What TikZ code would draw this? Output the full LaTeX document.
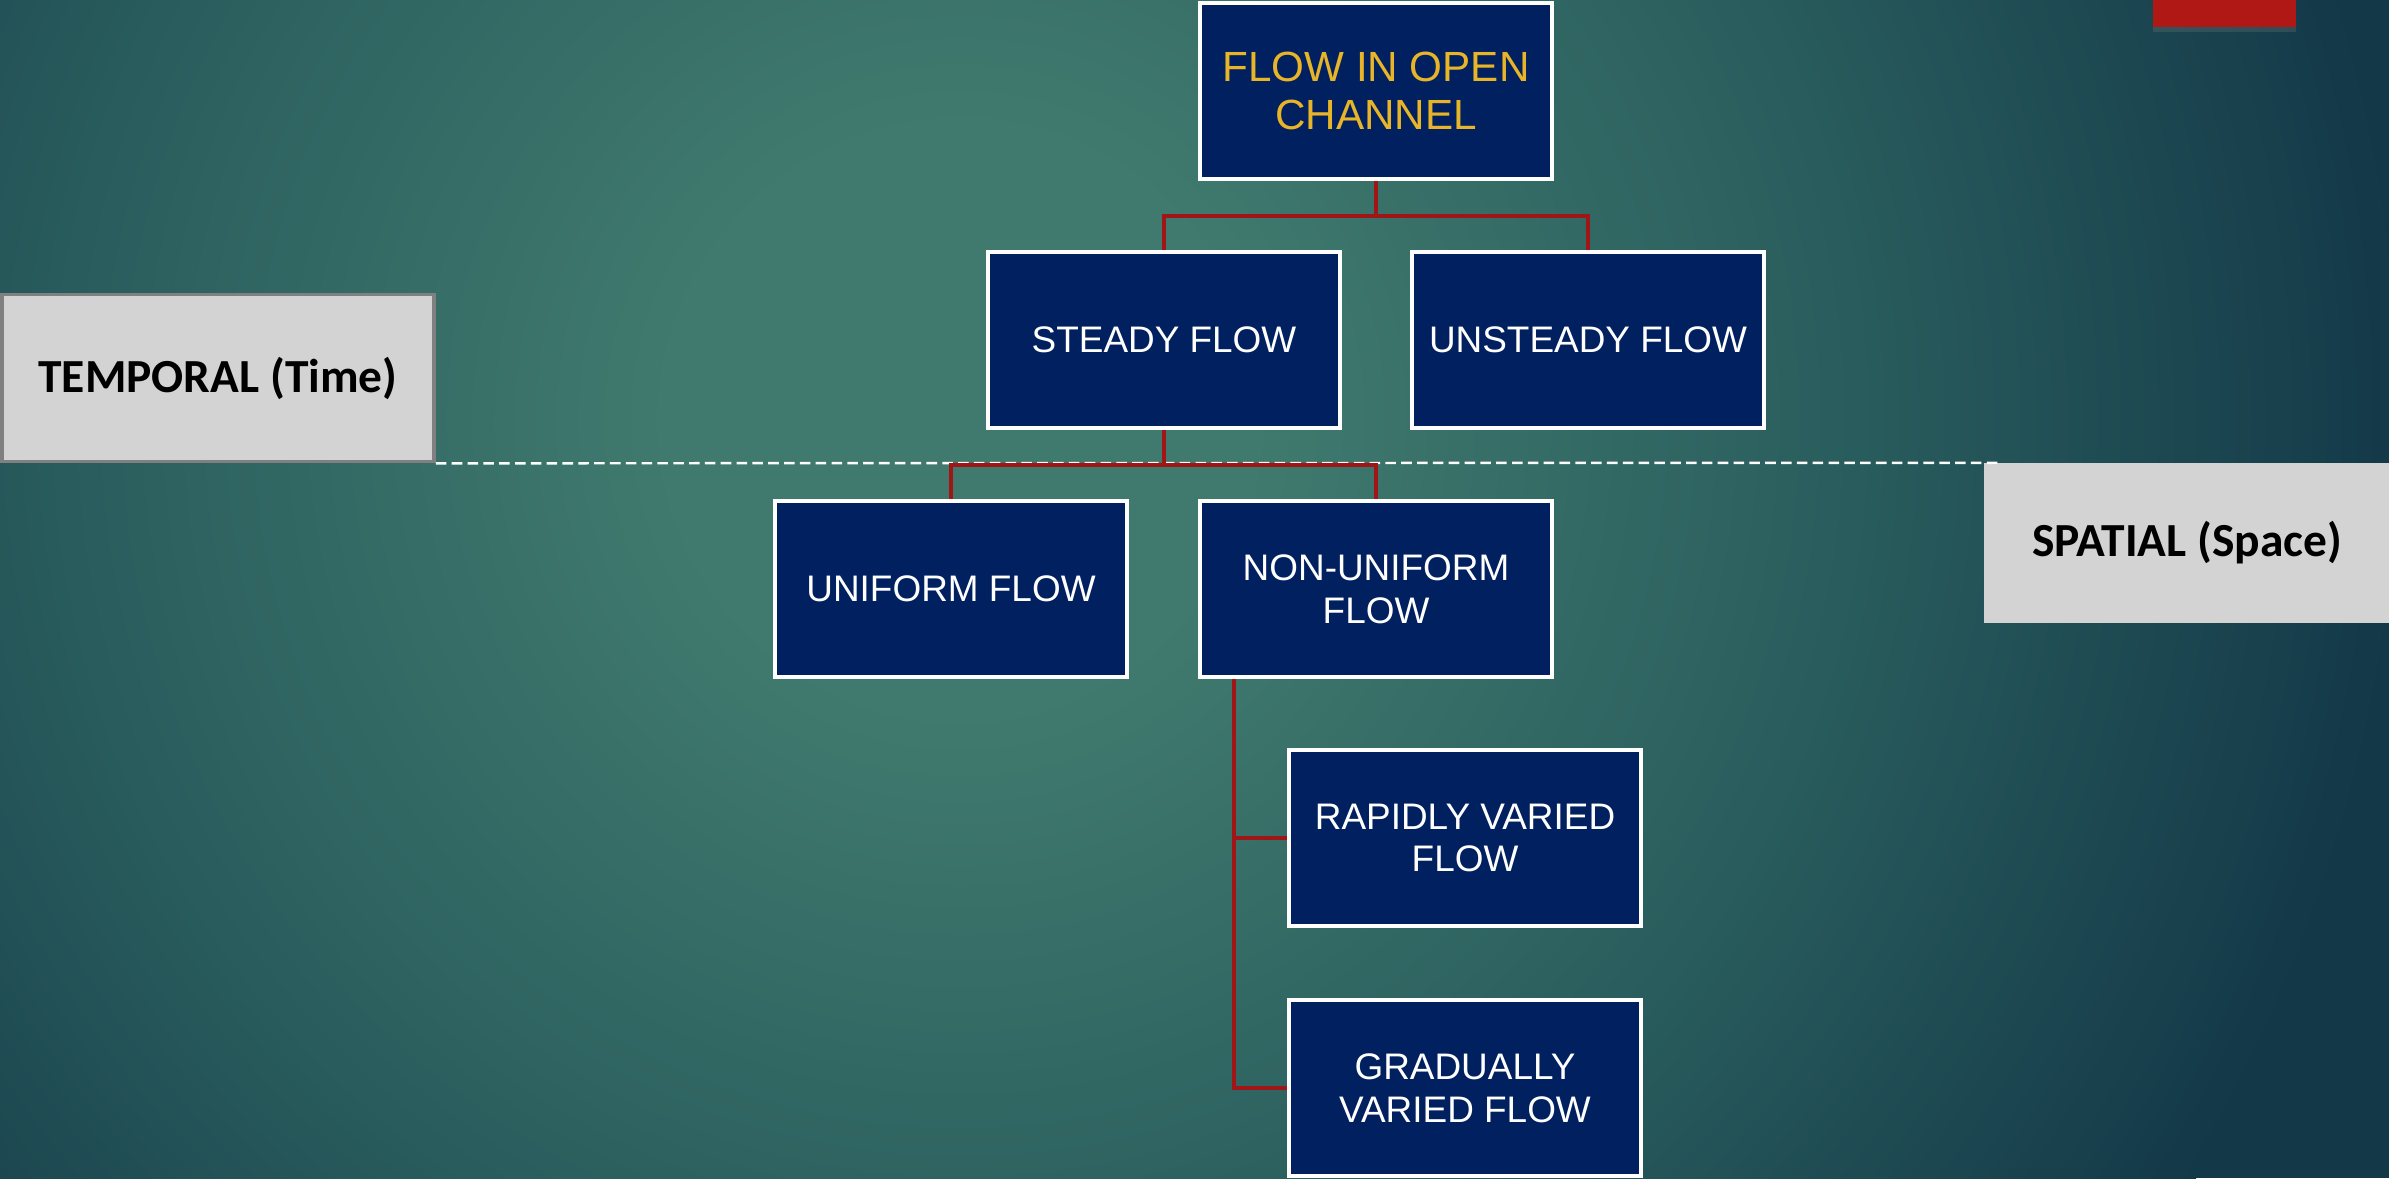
\documentclass[tikz,border=0pt]{standalone}
\usepackage{fontspec}
\setmainfont{Liberation Sans}
\newfontfamily\calfont{Carlito}
\usetikzlibrary{shadows}

\definecolor{bglight}{RGB}{64,122,110}
\definecolor{bgmid}{RGB}{42,94,94}
\definecolor{bgdark}{RGB}{19,56,72}
\definecolor{boxblue}{RGB}{0,32,96}
\definecolor{titlegold}{RGB}{232,180,40}
\definecolor{linkred}{RGB}{160,22,22}
\definecolor{tagred}{RGB}{176,24,21}
\definecolor{taggray}{RGB}{211,211,211}

\pgfdeclareradialshading{bgglow}{\pgfpoint{0bp}{0bp}}{color(0bp)=(bglight); color(5bp)=(bglight); color(15bp)=(bgmid); color(25bp)=(bgdark); color(50bp)=(bgdark)}

\tikzset{
  flowbox/.style={draw=white, line width=1.1pt, fill=boxblue, text=white,
    minimum width=3.52cm, minimum height=1.76cm, align=center, inner sep=2pt,
    font=\fontsize{10.5}{12.2}\selectfont},
  rootbox/.style={flowbox, text=titlegold, font=\fontsize{12}{13.6}\selectfont},
  tagbox/.style={fill=taggray, text=black, font=\calfont\bfseries\fontsize{13.5}{16}\selectfont},
  link/.style={linkred, line width=1.1pt},
  sepline/.style={white, line width=0.7pt, dash pattern=on 3pt off 1.5pt}
}

\begin{document}
\begin{tikzpicture}[x=0.01cm, y=-0.01cm]
    \useasboundingbox (0,0) rectangle (2389,1178);
    % Background glow
    \begin{scope}
        \clip (0,0) rectangle (2389,1178);
        \fill[bgdark] (0,0) rectangle (2389,1178);
        \shade[shading=bgglow] (960,420) circle (1450);
    \end{scope}
    % Red tab in the corner
    \path[fill=tagred, drop shadow={opacity=0.25, shadow xshift=0pt, shadow yshift=-1.5pt}]
        (2153,-10) rectangle (2296,27);
    % Flow classes
    \node[rootbox] (root) at (1376,91) {FLOW IN OPEN\\CHANNEL};
    \node[flowbox] (steady) at (1164,340) {STEADY FLOW};
    \node[flowbox] (unsteady) at (1588,340) {UNSTEADY FLOW};
    \node[flowbox] (uniform) at (951,589) {UNIFORM FLOW};
    \node[flowbox] (nonuniform) at (1376,589) {NON-UNIFORM\\FLOW};
    \node[flowbox] (rapid) at (1465,838) {RAPIDLY VARIED\\FLOW};
    \node[flowbox] (gradual) at (1465,1088) {GRADUALLY\\VARIED FLOW};
    % Side labels
    \node[tagbox, draw=gray, line width=1pt, minimum width=4.32cm, minimum height=1.67cm]
        (temporal) at (218,378) {TEMPORAL (Time)};
    \node[tagbox, minimum width=4.05cm, minimum height=1.59cm]
        (spatial) at (2187,543) {SPATIAL (Space)};
    % Time / space divider
    \draw[sepline] (temporal.south east) -- ([xshift=0.16cm]spatial.north west);
    % Tree links
    \draw[link] (root.south) -- ++(0,35) -| (steady.north);
    \draw[link] (root.south) ++(0,35) -| (unsteady.north);
    \draw[link] (steady.south) -- ++(0,35) -| (uniform.north);
    \draw[link] (steady.south) ++(0,35) -| (nonuniform.north);
    \draw[link] (nonuniform.south west) ++(36,0) |- (rapid.west);
    \draw[link] (nonuniform.south west) ++(36,0) |- (gradual.west);
\end{tikzpicture}
\end{document}
